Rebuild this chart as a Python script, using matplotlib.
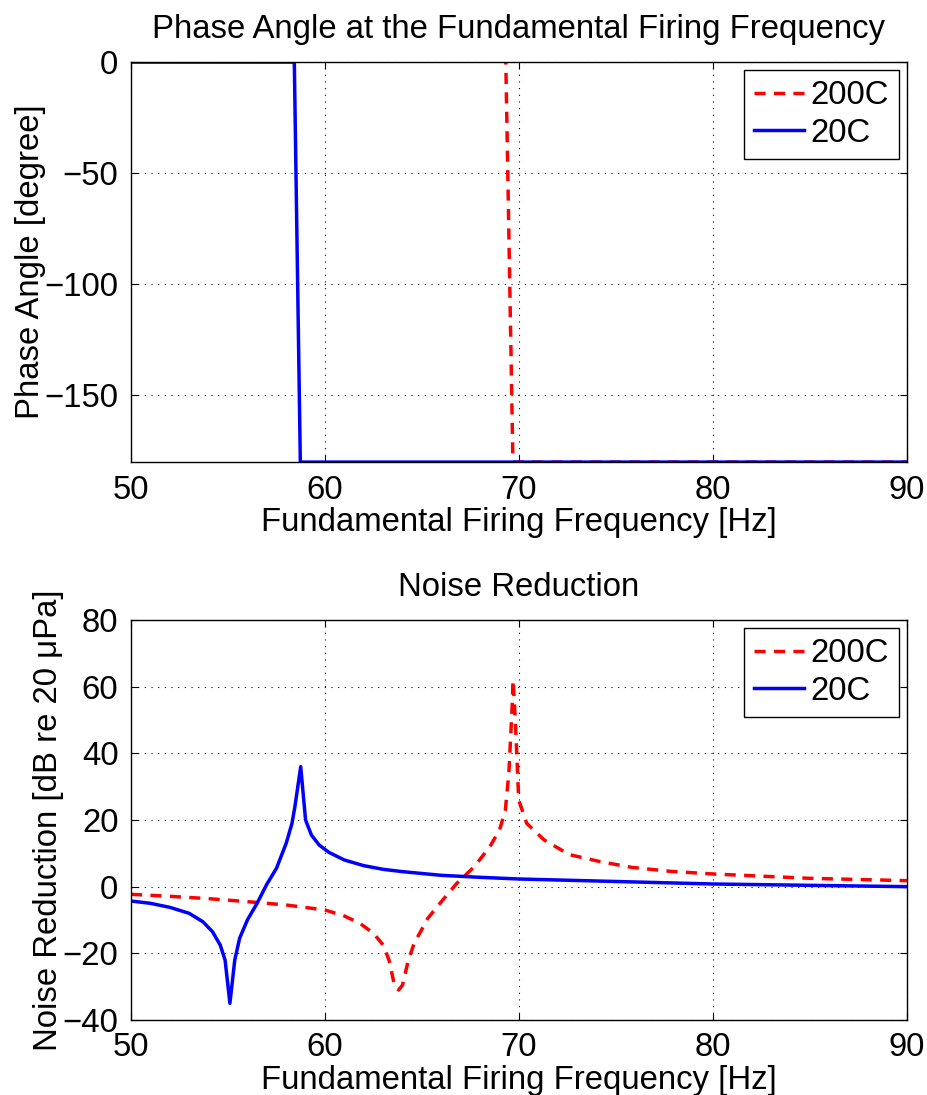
"""
Phase angle and noise reduction vs fundamental firing frequency (200C vs 20C).
"""

import matplotlib
matplotlib.use("Agg")
import matplotlib.pyplot as plt

# Phase angle [deg] (top panel)
PHASE_20C_FREQ = [50.0, 58.42, 58.73, 90.0]
PHASE_20C = [0.0, 0.0, -180.0, -180.0]
PHASE_200C_FREQ = [50.0, 69.32, 69.69, 90.0]
PHASE_200C = [1.5, 1.5, -180.0, -180.0]

# Noise reduction [dB re 20 uPa] (bottom panel)
NR_20C_FREQ = [50.0, 51.0, 52.0, 53.0, 53.7, 54.2, 54.6, 54.85, 55.1, 55.35,
               55.6, 56.0, 56.5, 57.0, 57.5, 58.0, 58.3, 58.45, 58.75, 59.0,
               59.3, 59.7, 60.2, 61.0, 62.0, 63.0, 64.0, 66.0, 68.0, 70.0,
               74.0, 80.0, 85.0, 90.0]
NR_20C = [-4.3, -5.0, -6.2, -8.0, -10.5, -13.5, -17.5, -22.0, -35.0, -22.0,
          -15.5, -10.0, -5.0, 0.7, 5.5, 13.0, 19.0, 24.0, 36.0, 20.0,
          15.5, 12.5, 10.3, 8.0, 6.3, 5.2, 4.5, 3.4, 2.8, 2.3,
          1.7, 0.8, 0.4, 0.0]

NR_200C_FREQ = [50.0, 52.0, 54.0, 56.0, 58.0, 60.0, 61.0, 61.8, 62.5, 63.0,
                63.3, 63.6, 63.8, 64.0, 64.3, 64.6, 65.3, 66.0, 66.8, 67.7,
                68.5, 69.0, 69.3, 69.48, 69.65, 69.7, 69.82, 69.99, 70.4, 71.3,
                72.6, 74.2, 75.8, 77.8, 80.0, 85.0, 90.0]
NR_200C = [-2.3, -2.9, -3.6, -4.5, -5.5, -7.0, -8.8, -11.0, -14.0, -17.5,
           -22.0, -30.0, -31.0, -29.5, -22.0, -17.0, -9.5, -4.5, 1.0, 6.0,
           12.0, 17.0, 23.0, 34.0, 54.0, 62.0, 49.0, 26.0, 19.0, 14.0,
           9.6, 7.5, 5.8, 4.6, 3.8, 2.5, 1.8]

XTICKS = [50, 60, 70, 80, 90]
PHASE_YTICKS = [0, -50, -100, -150]
NR_YTICKS = [-40, -20, 0, 20, 40, 60, 80]

FS = 23.7
LW = 2.5
DASHES = (3.2, 2.4)


def style_axes(ax):
    ax.tick_params(direction="in", top=True, right=True, length=5, width=0.8,
                   labelsize=FS, pad=9)
    ax.grid(True, color="black", linestyle=(0, (1, 5)), linewidth=0.8)
    for s in ax.spines.values():
        s.set_linewidth(1.0)
    ax.set_xlim(50, 90)
    ax.set_xticks(XTICKS)
    ax.set_xlabel("Fundamental Firing Frequency [Hz]", fontsize=FS, labelpad=1)


def add_legend(ax):
    leg = ax.legend(loc="upper right", fontsize=FS, handlelength=1.5,
                    handletextpad=0.2, borderpad=0.3, labelspacing=0.2,
                    fancybox=False, framealpha=1, edgecolor="black",
                    borderaxespad=0.25)
    leg.get_frame().set_linewidth(1.0)


def main() -> None:
    plt.rcParams["font.family"] = ["Liberation Sans", "DejaVu Sans"]
    fig = plt.figure(figsize=(9.27, 10.95), dpi=100)
    ax1 = fig.add_axes([0.1413, 0.578, 0.837, 0.3653])
    ax2 = fig.add_axes([0.1413, 0.0685, 0.837, 0.3653])

    ax1.plot(PHASE_200C_FREQ, PHASE_200C, color="red", linestyle="--",
             dashes=DASHES, linewidth=LW, label="200C")
    ax1.plot(PHASE_20C_FREQ, PHASE_20C, color="blue", linewidth=LW, label="20C")
    style_axes(ax1)
    ax1.set_ylim(-180, 0)
    ax1.set_yticks(PHASE_YTICKS)
    ax1.set_ylabel("Phase Angle [degree]", fontsize=FS, labelpad=-1)
    ax1.set_title("Phase Angle at the Fundamental Firing Frequency",
                  fontsize=FS, pad=17)
    add_legend(ax1)

    ax2.plot(NR_200C_FREQ, NR_200C, color="red", linestyle="--",
             dashes=DASHES, linewidth=LW, label="200C")
    ax2.plot(NR_20C_FREQ, NR_20C, color="blue", linewidth=LW, label="20C")
    style_axes(ax2)
    ax2.set_ylim(-40, 80)
    ax2.set_yticks(NR_YTICKS)
    ax2.set_ylabel("Noise Reduction [dB re 20 \u03bcPa]", fontsize=FS,
                   labelpad=-1)
    ax2.set_title("Noise Reduction", fontsize=FS, pad=17)
    add_legend(ax2)

    fig.savefig("out.png", dpi=100)
    plt.close(fig)


if __name__ == "__main__":
    main()
